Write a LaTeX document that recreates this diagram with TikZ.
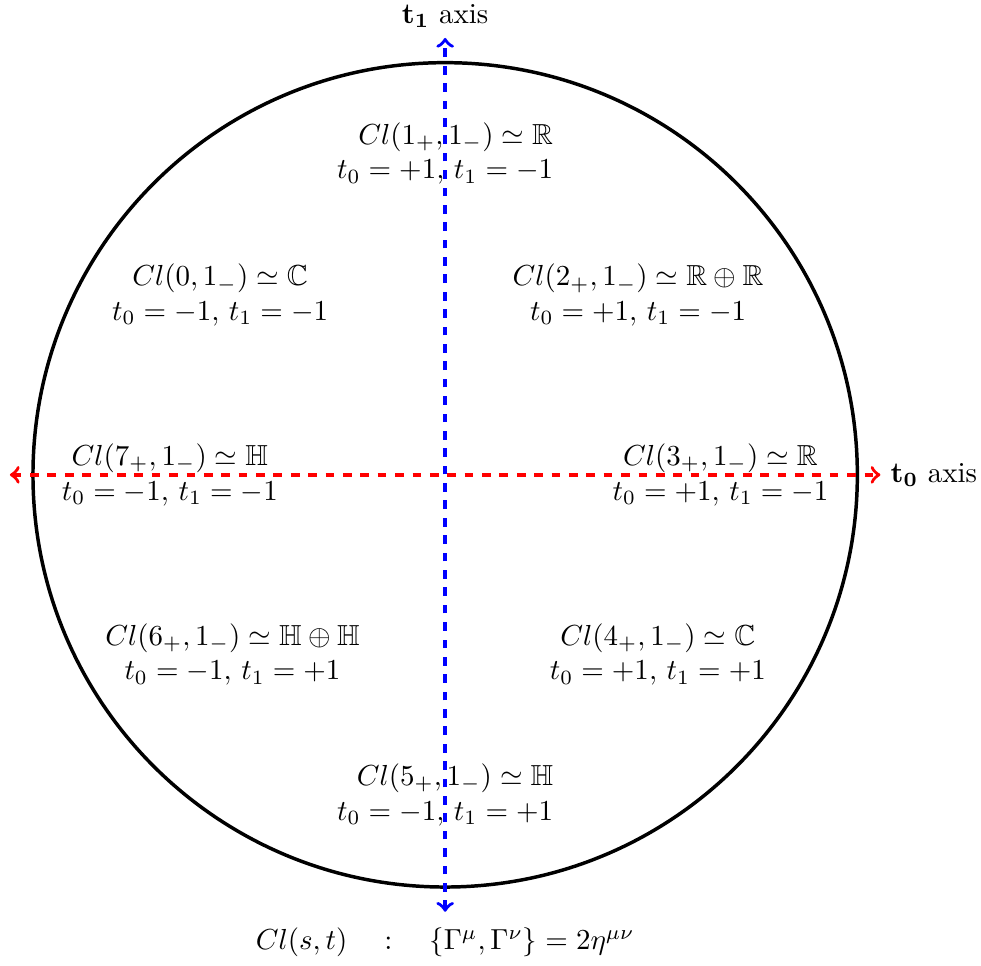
\documentclass[tikz,border=0pt]{standalone}
\usepackage{amsmath,amssymb}
\usetikzlibrary{positioning}

\begin{document}
\begin{tikzpicture}[
  cl/.style={align=center},
  clr/.style={align=right},
  axisline/.style={<->,dashed,very thick}]
\useasboundingbox (-5.40,-5.95) rectangle (6.50,5.76);
% circle
\draw[very thick] (0,0) circle (5);
% axes
\coordinate (west) at (-5.28,0);
\coordinate (east) at (5.28,0);
\coordinate (south) at (0,-5.30);
\coordinate (north) at (0,5.30);
\draw[axisline,red] (west) -- (east);
\draw[axisline,blue] (south) -- (north);
\node[above=0pt of north] (t1lab) {$\mathbf{t_1}$ axis};
\node[right=0pt of east] (t0lab) {$\mathbf{t_0}$ axis};
% algebras
\node[clr] (c1) at (0,3.90) {$Cl(1_+,1_-)\simeq\mathbb{R}$\\$t_0=+1,\, t_1=-1$};
\node[cl] (c2) at (2.34,2.18) {$Cl(2_+,1_-)\simeq\mathbb{R}\oplus\mathbb{R}$\\$t_0=+1,\, t_1=-1$};
\node[cl] (c3) at (3.34,0) {$Cl(3_+,1_-)\simeq\mathbb{R}$\\$t_0=+1,\, t_1=-1$};
\node[cl] (c4) at (2.58,-2.18) {$Cl(4_+,1_-)\simeq\mathbb{C}$\\$t_0=+1,\, t_1=+1$};
\node[clr] (c5) at (0,-3.88) {$Cl(5_+,1_-)\simeq\mathbb{H}$\\$t_0=-1,\, t_1=+1$};
\node[cl] (c6) at (-2.58,-2.18) {$Cl(6_+,1_-)\simeq\mathbb{H}\oplus\mathbb{H}$\\$t_0=-1,\, t_1=+1$};
\node[cl] (c7) at (-3.34,0) {$Cl(7_+,1_-)\simeq\mathbb{H}$\\$t_0=-1,\, t_1=-1$};
\node[cl] (c0) at (-2.73,2.18) {$Cl(0,1_-)\simeq\mathbb{C}$\\$t_0=-1,\, t_1=-1$};
% relation
\node (rel) at (0,-5.67) {$Cl(s,t)\quad:\quad\{\Gamma^\mu,\Gamma^\nu\}=2\eta^{\mu\nu}$};
\end{tikzpicture}
\end{document}
